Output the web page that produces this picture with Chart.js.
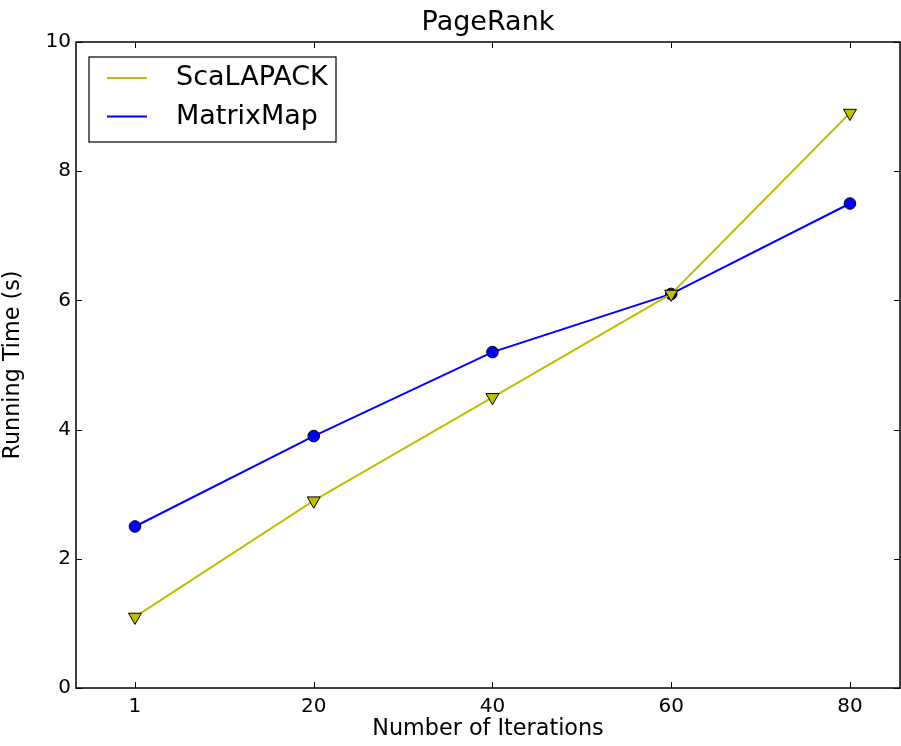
<!DOCTYPE html>
<html>
<head>
<meta charset="utf-8">
<title>PageRank</title>
<script src="https://cdn.jsdelivr.net/npm/chart.js@4.4.0/dist/chart.umd.min.js"></script>
<style>
html, body { margin: 0; padding: 0; background: #fff; }
canvas { display: block; }
</style>
</head>
<body>
<canvas id="chart" width="901" height="746"></canvas>
<script>
'use strict';

// data
const iterations = ['1', '20', '40', '60', '80'];
const scalapack = [1.1, 2.9, 4.5, 6.1, 8.9];
const matrixmap = [2.5, 3.9, 5.2, 6.1, 7.5];
const y_ticks = [0, 2, 4, 6, 8, 10];

const toPoints = arr => arr.map((v, i) => ({x: i, y: v}));

Chart.defaults.font.family = "'DejaVu Sans', sans-serif";
Chart.defaults.color = '#000';

// matplotlib-like box with inward ticks on all four sides
const frame = {
	id: 'frame',
	afterDatasetsDraw(chart) {
		const ctx = chart.ctx;
		const a = chart.chartArea;
		const xs = chart.scales.x;
		const ys = chart.scales.y;
		const len = 6;

		ctx.save();
		ctx.strokeStyle = '#000';
		ctx.lineWidth = 1;
		ctx.beginPath();
		iterations.forEach((lab, i) => {
			const px = Math.round(xs.getPixelForValue(i)) + 0.5;
			ctx.moveTo(px, a.bottom);
			ctx.lineTo(px, a.bottom - len);
			ctx.moveTo(px, a.top);
			ctx.lineTo(px, a.top + len);
		});
		y_ticks.forEach(v => {
			const py = Math.round(ys.getPixelForValue(v)) + 0.5;
			ctx.moveTo(a.left, py);
			ctx.lineTo(a.left + len, py);
			ctx.moveTo(a.right, py);
			ctx.lineTo(a.right - len, py);
		});
		ctx.stroke();

		ctx.lineWidth = 1.5;
		ctx.strokeStyle = '#000';
		ctx.strokeRect(a.left, a.top, a.right - a.left, a.bottom - a.top);
		ctx.restore();
	}
};

// boxed legend, upper left
const boxLegend = {
	id: 'boxLegend',
	afterDraw(chart) {
		const ctx = chart.ctx;
		const a = chart.chartArea;
		const x0 = a.left + 13, y0 = a.top + 15;
		const w = 247, h = 85;
		ctx.save();
		ctx.fillStyle = '#fff';
		ctx.fillRect(x0, y0, w, h);
		ctx.strokeStyle = '#000';
		ctx.lineWidth = 1.2;
		ctx.strokeRect(x0, y0, w, h);

		ctx.font = "27px 'DejaVu Sans'";
		ctx.textBaseline = 'middle';
		ctx.textAlign = 'left';
		chart.data.datasets.forEach((ds, i) => {
			const yy = y0 + 21 + i * 38.5;
			ctx.strokeStyle = ds.borderColor;
			ctx.lineWidth = ds.borderWidth;
			ctx.beginPath();
			ctx.moveTo(x0 + 18, yy);
			ctx.lineTo(x0 + 58, yy);
			ctx.stroke();
			ctx.fillStyle = '#000';
			ctx.fillText(ds.label, x0 + 87, yy);
		});
		ctx.restore();
	}
};

const ctx = document.querySelector('#chart').getContext('2d');

const chart = new Chart(ctx, {
	type: 'line',
	data: {
		datasets: [
			{
				label: 'ScaLAPACK',
				data: toPoints(scalapack),
				borderColor: '#bfbf00',
				backgroundColor: '#bfbf00',
				borderWidth: 2,
				pointStyle: 'triangle',
				pointRotation: 180,
				pointRadius: 7.5,
				pointBorderColor: '#000',
				pointBorderWidth: 1,
				order: 1
			},
			{
				label: 'MatrixMap',
				data: toPoints(matrixmap),
				borderColor: '#0000ff',
				backgroundColor: '#0000ff',
				borderWidth: 2,
				pointStyle: 'circle',
				pointRadius: 5.8,
				pointBorderColor: '#000',
				pointBorderWidth: 1,
				order: 2
			}
		]
	},
	options: {
		responsive: false,
		animation: false,
		events: [],
		layout: {
			autoPadding: false,
			padding: {top: 0, right: 1, left: 0, bottom: 0}
		},
		plugins: {
			legend: {display: false},
			tooltip: {enabled: false},
			title: {
				display: true,
				fullSize: false,
				text: 'PageRank',
				font: {size: 27, weight: 'normal'},
				color: '#000',
				padding: {top: 7, bottom: 2.6}
			}
		},
		scales: {
			x: {
				type: 'linear',
				min: -0.33,
				max: 4.28,
				grid: {display: false, drawTicks: false},
				border: {display: false},
				afterBuildTicks: s => { s.ticks = iterations.map((l, i) => ({value: i})); },
				afterFit: s => {
					s.height = 58;
					s.paddingLeft = 0;
					s.paddingRight = 0;
				},
				ticks: {
					font: {size: 20},
					padding: 7,
					maxRotation: 0,
					callback: v => iterations[v]
				},
				title: {
					display: true,
					text: 'Number of Iterations',
					font: {size: 22.3},
					padding: {top: 0, bottom: 3}
				}
			},
			y: {
				min: 0,
				max: 10,
				grid: {display: false, drawTicks: false},
				border: {display: false},
				afterBuildTicks: s => { s.ticks = y_ticks.map(v => ({value: v})); },
				afterFit: s => { s.width = 76; },
				ticks: {
					font: {size: 20},
					padding: 5
				},
				title: {
					display: true,
					text: 'Running Time (s)',
					font: {size: 22.3},
					padding: {top: 0, bottom: 9}
				}
			}
		}
	},
	plugins: [frame, boxLegend]
});
</script>
</body>
</html>
